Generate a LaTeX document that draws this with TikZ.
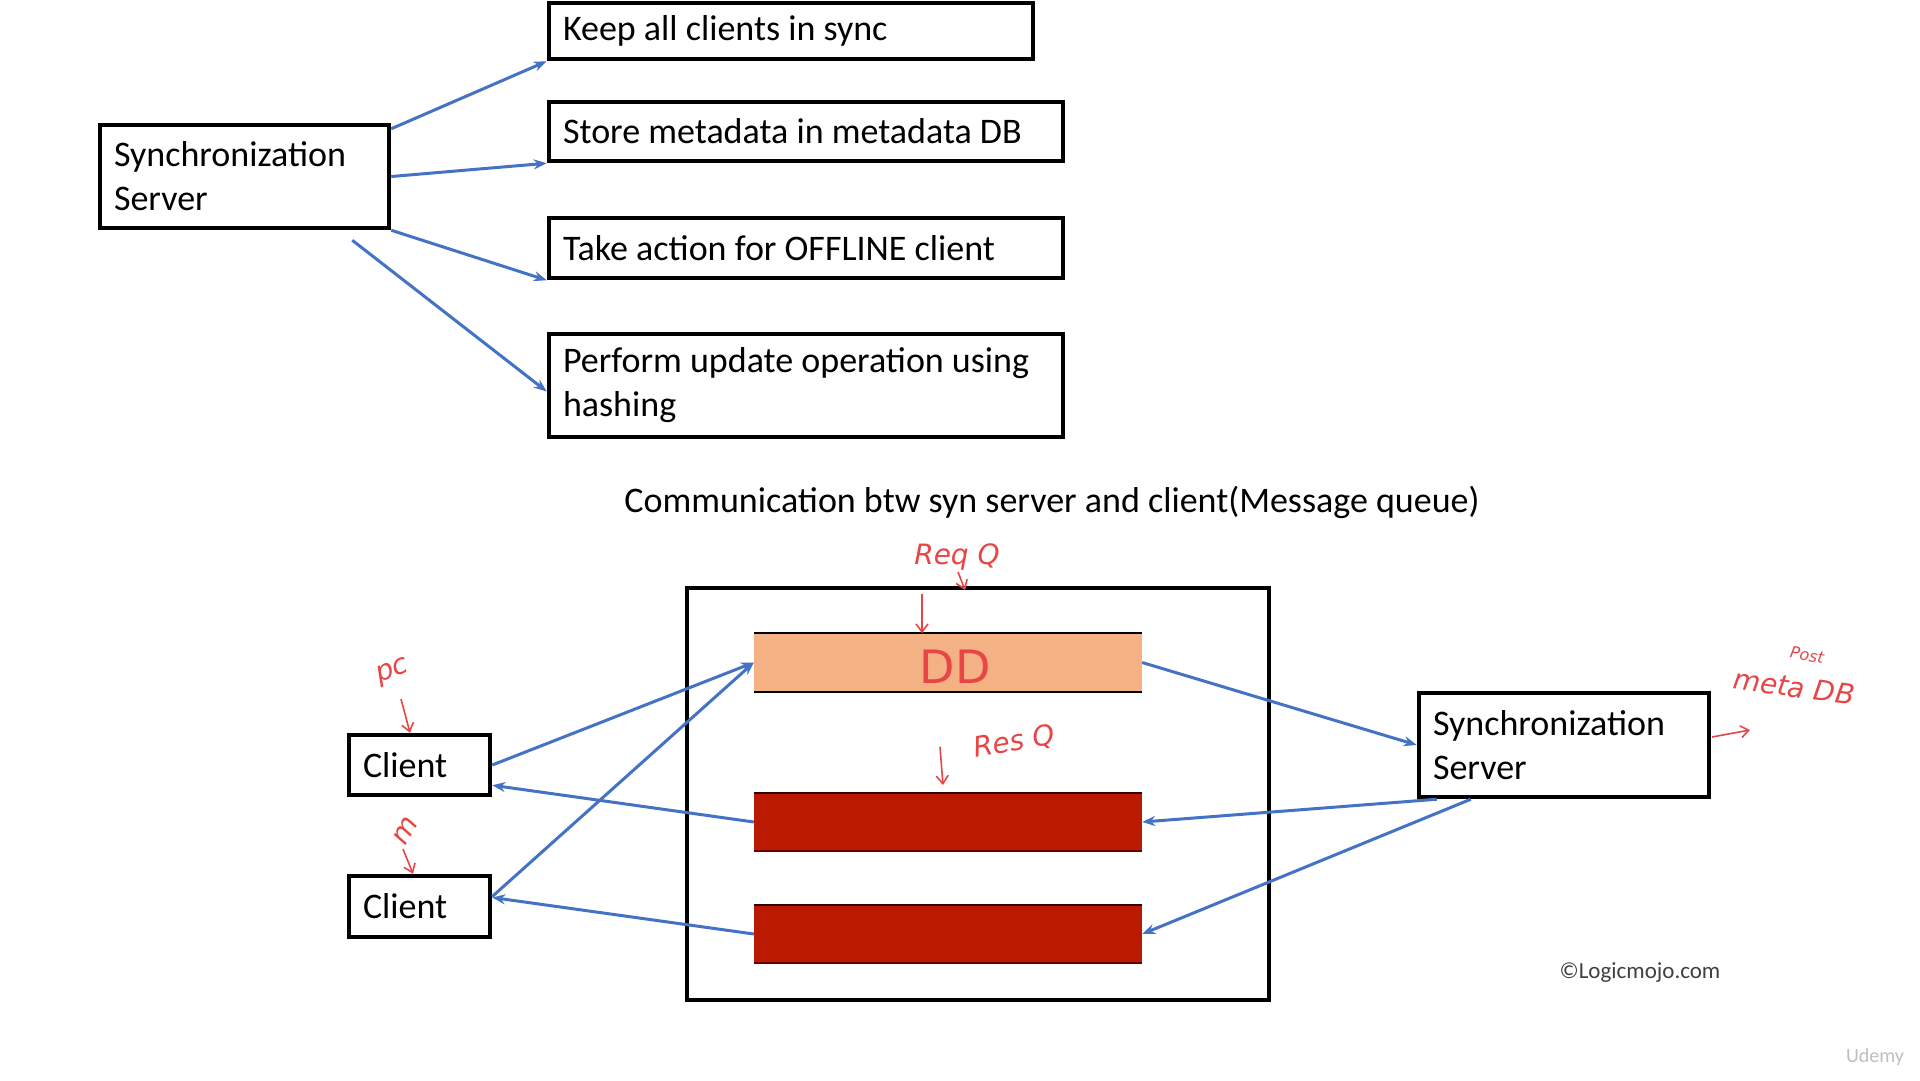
\documentclass[tikz,border=0pt]{standalone}
\usepackage{fontspec}
\setmainfont{Carlito}
\newfontfamily\handfont{DejaVu Sans}
\usetikzlibrary{arrows.meta,calc}
\definecolor{arrowblue}{RGB}{68,114,196}
\definecolor{barorange}{RGB}{244,177,131}
\definecolor{barred}{RGB}{186,26,0}
\definecolor{handred}{RGB}{232,70,70}
\tikzset{
  box/.style={draw=black, line width=4.5pt, fill=white, align=flush left, inner xsep=14pt, inner ysep=0pt,
    font=\fontsize{36}{44}\selectfont, text=black},
  conn/.style={draw=arrowblue, line width=3pt, -{Stealth[length=13pt,width=10pt]}},
  bar/.style={minimum width=388pt, minimum height=58pt, inner sep=0pt, draw=none},
  hand/.style={text=handred, font=\handfont\itshape\fontsize{28}{30}\selectfont},
  handarrow/.style={draw=handred, line width=1.6pt, -{Straight Barb[length=8pt,width=12pt]}},
}
\begin{document}
\begin{tikzpicture}[x=1pt,y=-1pt]
\useasboundingbox[fill=white] (0,0) rectangle (1920,1080);

% ---- top part ----
\node[box, text width=261pt, minimum height=103pt] (sync1) at (244.5,176.5) {Synchronization\\Server};
\node[box, text width=456pt, minimum height=56pt] (keep) at (791,31) {Keep all clients in sync};
\node[box, text width=486pt, minimum height=59pt] (store) at (806,131.5) {Store metadata in metadata DB};
\node[box, text width=486pt, minimum height=60pt] (take) at (806,248) {Take action for OFFLINE client};
\node[box, text width=486pt, minimum height=103pt] (perform) at (806,385.5) {Perform update operation using\\hashing};

\draw[conn] ([yshift=-6pt]sync1.north east) -- (keep.south west);
\draw[conn] (sync1.east) -- (store.south west);
\draw[conn] (sync1.south east) -- (take.south west);
\draw[conn] ([xshift=-39pt,yshift=-10pt]sync1.south east) -- ([yshift=-6pt]perform.west);

% ---- title ----
\node[font=\fontsize{36}{44}\selectfont] (title) at (1052,502) {Communication btw syn server and client(Message queue)};

% ---- bottom part ----
\node[draw=black, line width=4.5pt, minimum width=582pt, minimum height=412pt, inner sep=0pt] (mq) at (978,794) {};
\node[bar, fill=barorange] (orange) at (948,662.5) {};
\draw[black, line width=2pt] (orange.north west) -- (orange.north east);
\draw[black, line width=2pt] (orange.south west) -- (orange.south east);
\node[bar, fill=barred] (red1) at (948,822) {};
\draw[black!80!red, line width=2pt] (red1.north west) -- (red1.north east);
\draw[black!60!red, line width=2pt] (red1.south west) -- (red1.south east);
\node[bar, fill=barred] (red2) at (948,934) {};
\draw[black!80!red, line width=2pt] (red2.north west) -- (red2.north east);
\draw[black!60!red, line width=2pt] (red2.south west) -- (red2.south east);

\node[box, text width=113pt, minimum height=60pt] (c1) at (419.5,765) {Client};
\node[box, text width=113pt, minimum height=61pt] (c2) at (419.5,906.5) {Client};
\node[box, text width=262pt, minimum height=104pt] (sync2) at (1564,745) {Synchronization\\Server};

\draw[conn] (c1.east) -- (orange.west);
\draw[conn] ([yshift=10pt]c2.east) -- (orange.west);
\draw[conn] (red1.west) -- ([yshift=12pt]c1.south east);
\draw[conn] (red2.west) -- ([yshift=9pt]c2.east);
\draw[conn] (orange.east) -- (sync2.west);
\draw[conn] ([xshift=20pt]sync2.south west) -- (red1.east);
\draw[conn] ([xshift=54pt]sync2.south west) -- (red2.east);

% ---- handwritten annotations ----
\node[hand] (reqq) at (957,557) {Req Q};
\coordinate (rq1) at (958,572);
\coordinate (rq2) at (965,590);
\draw[handarrow] (rq1) -- (rq2);
\coordinate (rq3) at (922,594);
\draw[handarrow] (rq3) -- (orange.north -| rq3);
\node[text=handred, font=\handfont\fontsize{46}{48}\selectfont] (dd) at (955,667) {DD};
\node[hand, rotate=10] (resq) at (1014,742) {Res Q};
\coordinate (rs1) at (940,747);
\draw[handarrow] (rs1) -- (943,785);
\node[hand, rotate=20] (pc) at (393,672) {pc};
\coordinate (pc1) at (401,699);
\draw[handarrow] (pc1) -- (c1.north -| 410,0);
\node[hand, rotate=60] (mo) at (406,831) {m};
\coordinate (mo1) at (403,849);
\draw[handarrow] (mo1) -- (c2.north -| 413,0);
\node[hand, font=\handfont\itshape\fontsize{16}{18}\selectfont, rotate=-10] (post) at (1807,655) {Post};
\node[hand, rotate=-8] (meta) at (1794,687) {meta DB};
\coordinate (sv1) at (1712,737);
\draw[handarrow] (sv1) -- (1750,730);

% ---- watermarks ----
\node[text=black!75, font=\fontsize{23}{26}\selectfont] (logo) at (1640,973) {©Logicmojo.com};
\node[text=black!25, font=\fontsize{20}{24}\selectfont] (udemy) at (1875,1057) {Udemy};
\end{tikzpicture}
\end{document}
